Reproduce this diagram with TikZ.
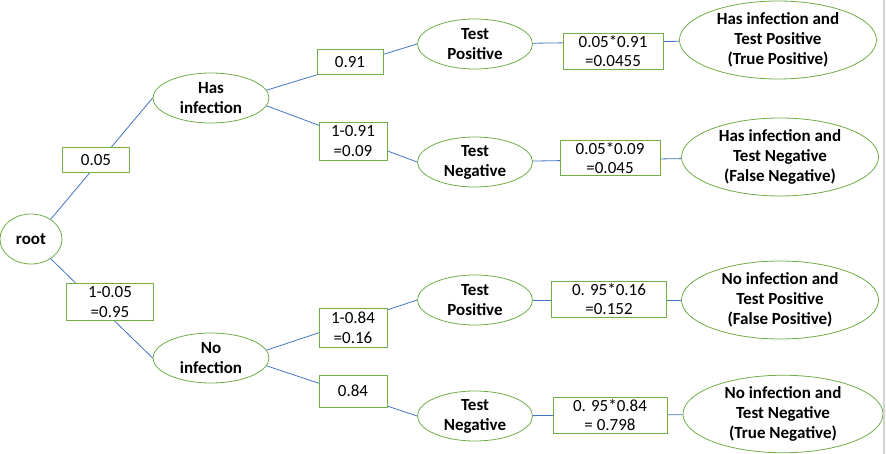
\documentclass[tikz,border=0pt]{standalone}
\usepackage{fontspec}
\setmainfont{Carlito}
\usepackage{xcolor}
\usepackage{tikz}
\usetikzlibrary{shapes.geometric}

\definecolor{boxgreen}{HTML}{70AD47}
\definecolor{lineblue}{HTML}{4472C4}

\begin{document}
\begin{tikzpicture}[
		x=1pt, y=-1pt,
		state/.style={ellipse, draw=boxgreen, fill=white, line width=0.8pt, align=center, inner sep=0pt,
				font=\fontsize{17}{20}\selectfont\bfseries, minimum width=116pt, minimum height=50pt},
		leaf/.style={state, minimum width=197pt, minimum height=78pt},
		prob/.style={draw=boxgreen, fill=white, line width=0.8pt, align=center, inner sep=1pt,
				font=\fontsize{17}{19.5}\selectfont, minimum width=68pt, minimum height=25pt},
		edge/.style={draw=lineblue, line width=0.8pt}
		]
		\useasboundingbox (0,0) rectangle (886,454);
		\node[state, minimum width=62pt] (root) at (31,239) {root};
		\node[state] (has) at (211,98) {Has\\infection};
		\node[state] (no) at (211,358) {No\\infection};
		\node[state, minimum width=115pt] (tp1) at (475,44) {Test\\Positive};
		\node[state, minimum width=115pt] (tn1) at (475,162) {Test\\Negative};
		\node[state, minimum width=115pt] (tp2) at (475,300) {Test\\Positive};
		\node[state, minimum width=115pt] (tn2) at (475,416) {Test\\Negative};
		\node[leaf] (hp) at (778,40) {Has infection and\\Test Positive\\(True Positive)};
		\node[leaf] (hn) at (780,157) {Has infection and\\Test Negative\\(False Negative)};
		\node[leaf] (np) at (780,300) {No infection and\\Test Positive\\(False Positive)};
		\node[leaf, minimum width=200pt, minimum height=76pt] (nn) at (783,414) {No infection and\\Test Negative\\(True Negative)};
		\foreach \a/\b in {root.45/has.west, root.-45/no.west, has.8/tp1.west, has.-8/tn1.west,
				no.8/tp2.west, no.-8/tn2.west, tp1/hp, tn1/hn, tp2/np, tn2/nn}
		\draw[edge] (\a)--(\b);
		% branch probabilities
		\node[prob, minimum width=67pt] (p1) at (96,160) {0.05};
		\node[prob, minimum width=87pt, minimum height=37pt] (p2) at (110,302) {1-0.05\\=0.95};
		\node[prob, minimum width=66pt] (p11) at (350,62) {0.91};
		\node[prob, minimum height=38pt] (p12) at (353,141) {1-0.91\\=0.09};
		\node[prob, minimum height=39pt] (p21) at (353,328) {1-0.84\\=0.16};
		\node[prob, minimum height=32pt] (p22) at (353,391) {0.84};
		% joint probabilities
		\node[prob, minimum width=100pt, minimum height=36pt] (j1) at (613,51) {0.05*0.91\\=0.0455};
		\node[prob, minimum width=100pt, minimum height=35pt] (j2) at (610,158) {0.05*0.09\\=0.045};
		\node[prob, minimum width=115pt, minimum height=36pt] (j3) at (609,299) {0. 95*0.16\\=0.152};
		\node[prob, minimum width=114pt, minimum height=36pt] (j4) at (610,415) {0. 95*0.84\\= 0.798};
		\draw[gray!35, line width=1.5pt] (884,0) -- (884,454);
	\end{tikzpicture}
\end{document}
